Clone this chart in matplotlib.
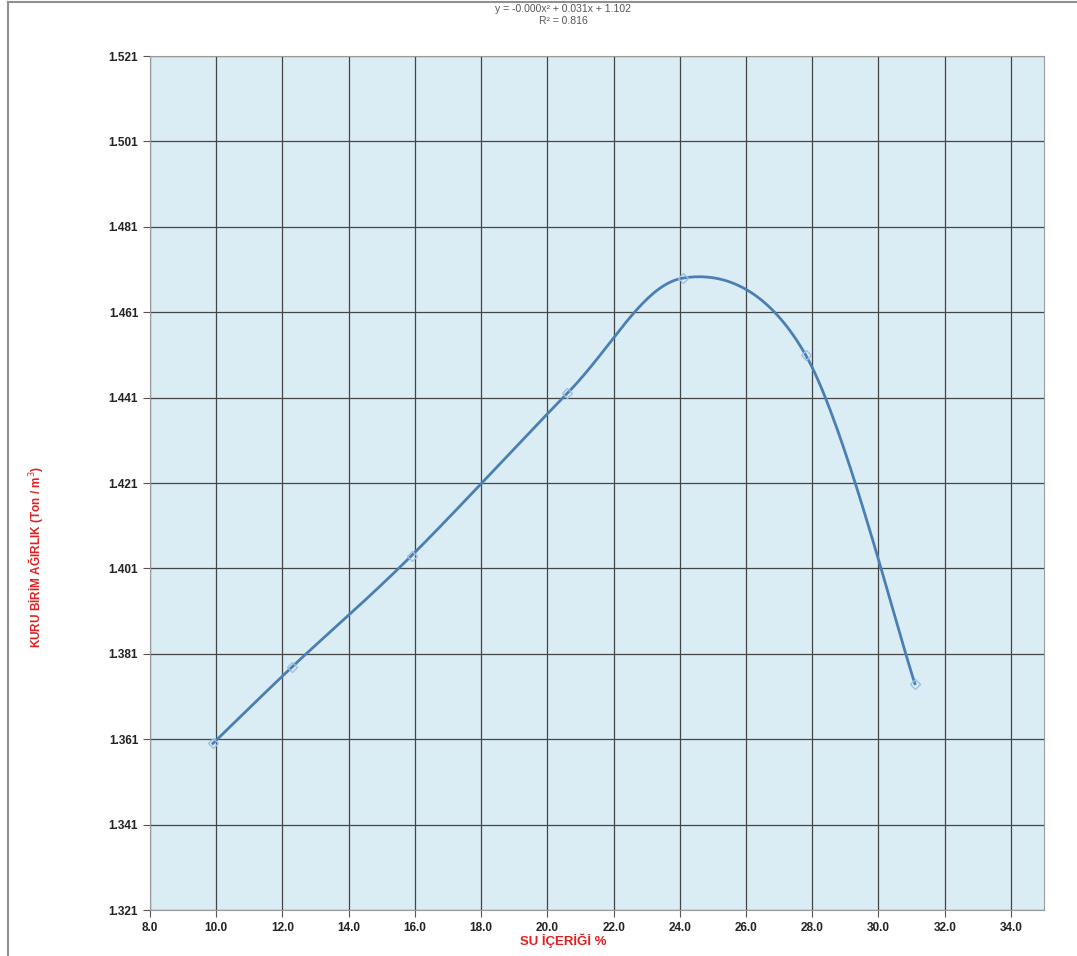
import numpy as np
import matplotlib
matplotlib.use('Agg')
import matplotlib.pyplot as plt
from matplotlib.lines import Line2D

# su içeriği (%) ve kuru birim ağırlık (ton/m3)
water = [9.9, 12.3, 15.9, 20.6, 24.1, 27.8, 31.1]
density = [1.360, 1.378, 1.404, 1.442, 1.469, 1.451, 1.374]

xticks = np.arange(8.0, 34.1, 2.0)
yticks = np.arange(1.321, 1.5211, 0.02)


def smooth(xs, ys, n=40):
    # excel style smoothed line: cubic bezier through each point
    xs = np.asarray(xs, float)
    ys = np.asarray(ys, float)
    px = np.concatenate([[xs[0]], xs, [xs[-1]]])
    py = np.concatenate([[ys[0]], ys, [ys[-1]]])
    ox, oy = [], []
    t = np.linspace(0, 1, n)
    for i in range(1, len(px) - 2):
        p0 = np.array([px[i], py[i]])
        p3 = np.array([px[i + 1], py[i + 1]])
        c1 = p0 + (np.array([px[i + 1], py[i + 1]]) - np.array([px[i - 1], py[i - 1]])) / 6
        c2 = p3 - (np.array([px[i + 2], py[i + 2]]) - np.array([px[i], py[i]])) / 6
        b = ((1 - t) ** 3)[:, None] * p0 + (3 * (1 - t) ** 2 * t)[:, None] * c1 \
            + (3 * (1 - t) * t ** 2)[:, None] * c2 + (t ** 3)[:, None] * p3
        ox.extend(b[:, 0])
        oy.extend(b[:, 1])
    return ox, oy


plt.rcParams['font.family'] = ['Liberation Sans', 'DejaVu Sans']

fig = plt.figure(figsize=(10.77, 9.56), dpi=100)
# chart frame: top and left edges only
fig.lines.append(Line2D([0.0075, 0.0075], [0, 0.998], transform=fig.transFigure,
                        color='#909090', linewidth=1.5))
fig.lines.append(Line2D([0.0075, 1.0], [0.998, 0.998], transform=fig.transFigure,
                        color='#909090', linewidth=1.5))

ax = fig.add_axes([0.1393, 0.0481, 0.8301, 0.8933])
ax.set_facecolor('#dbedf4')

sx, sy = smooth(water, density)
ax.plot(sx, sy, color='#4a7fb5', linewidth=2, zorder=3)
ax.plot(water, density, linestyle='none', marker='D', markersize=5,
        markerfacecolor='none', markeredgecolor='#9cc0e0', markeredgewidth=1, zorder=4)

ax.set_xlim(8.0, 35.0)
ax.set_ylim(1.321, 1.521)
ax.set_xticks(xticks)
ax.set_yticks(yticks)
ax.set_xticklabels(['%.1f' % v for v in xticks])
ax.set_yticklabels(['%.3f' % v for v in yticks])
ax.grid(True, color='#454545', linewidth=0.9)
ax.set_axisbelow(True)
ax.tick_params(labelsize=8.5, length=5, color='#555555', labelcolor='#222222')
for lab in ax.get_xticklabels() + ax.get_yticklabels():
    lab.set_fontweight('bold')
for s in ax.spines.values():
    s.set_color('#9a9a9a')

ax.set_xlabel('SU İÇERİĞİ %', color='#e02020', fontsize=9.5, fontweight='bold')
ax.xaxis.set_label_coords(0.462, -0.028)
fig.text(0.033, 0.417, 'KURU BİRİM AĞIRLIK (Ton / m$^3$)', rotation=90, color='#e02020',
         fontsize=8.5, fontweight='bold', ha='center', va='center')

fig.text(0.523, 0.991, 'y = -0.000x² + 0.031x + 1.102', ha='center', va='center',
         fontsize=7.5, color='#555555')
fig.text(0.523, 0.978, 'R² = 0.816', ha='center', va='center', fontsize=7.5, color='#555555')

fig.savefig('out.png', dpi=100)
